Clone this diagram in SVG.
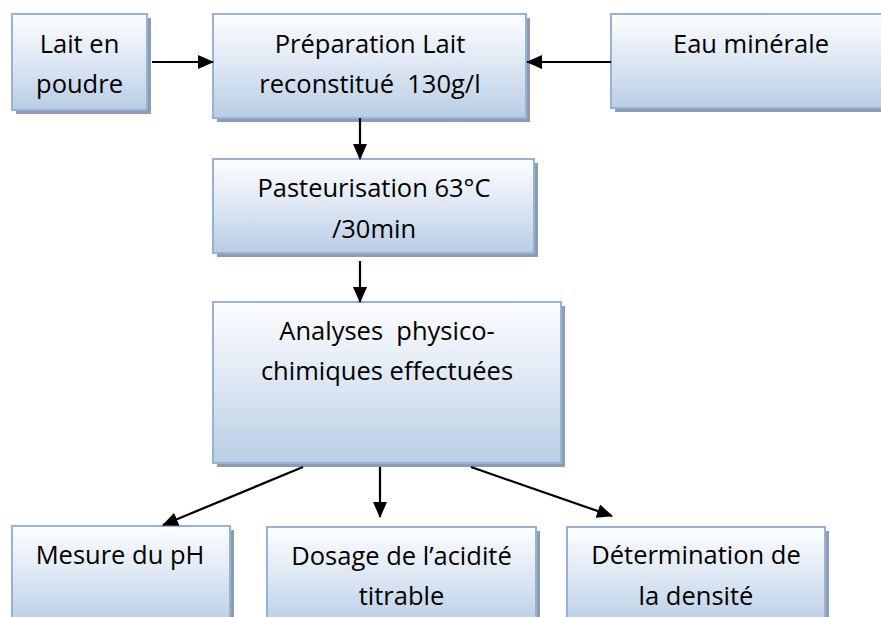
<svg xmlns="http://www.w3.org/2000/svg" width="881" height="617" viewBox="0 0 881 617">
<style>
.box{fill:url(#g);stroke:#95b3d7;stroke-width:2}
.sh{fill:#8e9bb0}
.t{font-family:"Open Sans","Liberation Sans",sans-serif;font-size:25.5px;fill:#000;text-anchor:middle}
.c{stroke:#000;stroke-width:2.2;fill:none;marker-end:url(#a)}
</style>
<defs>
<linearGradient id="g" x1="0" y1="0" x2="0" y2="1">
<stop offset="0" stop-color="#fdfeff"/>
<stop offset="0.5" stop-color="#dde7f3"/>
<stop offset="1" stop-color="#b9cde5"/>
</linearGradient>
<marker id="a" markerUnits="userSpaceOnUse" markerWidth="16" markerHeight="14" refX="15" refY="7" orient="auto" viewBox="0 0 16 14">
<path d="M0,0 L16,7 L0,14 Z" fill="#000"/>
</marker>
</defs>
<rect width="881" height="617" fill="#fff"/>
<g id="n1">
<rect class="sh" x="16" y="18" width="135" height="96"/>
<rect class="box" x="12" y="14" width="135" height="96"/>
<text class="t" x="79.5" y="53">Lait en</text>
<text class="t" x="79.5" y="93">poudre</text>
</g>
<g id="n2">
<rect class="sh" x="217" y="18" width="313" height="104"/>
<rect class="box" x="213" y="14" width="313" height="104"/>
<text class="t" x="370" y="53">Préparation Lait</text>
<text class="t" x="370" y="93" xml:space="preserve">reconstitué  130g/l</text>
</g>
<g id="n3">
<rect class="sh" x="615" y="18" width="280" height="94"/>
<rect class="box" x="611" y="14" width="280" height="94"/>
<text class="t" x="751" y="53">Eau minérale</text>
</g>
<g id="n4">
<rect class="sh" x="217" y="163" width="321" height="94"/>
<rect class="box" x="213" y="159" width="321" height="94"/>
<text class="t" x="374" y="197">Pasteurisation 63°C</text>
<text class="t" x="374" y="238">/30min</text>
</g>
<g id="n5">
<rect class="sh" x="217" y="306" width="348" height="161"/>
<rect class="box" x="213" y="302" width="348" height="161"/>
<text class="t" x="387" y="340" xml:space="preserve">Analyses  physico-</text>
<text class="t" x="387" y="380">chimiques effectuées</text>
</g>
<g id="n6">
<rect class="sh" x="16" y="530" width="218" height="100"/>
<rect class="box" x="12" y="526" width="218" height="100"/>
<text class="t" x="120" y="564">Mesure du pH</text>
</g>
<g id="n7">
<rect class="sh" x="271" y="531" width="269" height="100"/>
<rect class="box" x="267" y="527" width="269" height="100"/>
<text class="t" x="401.5" y="565">Dosage de l’acidité</text>
<text class="t" x="401.5" y="605">titrable</text>
</g>
<g id="n8">
<rect class="sh" x="571" y="531" width="258" height="100"/>
<rect class="box" x="567" y="527" width="258" height="100"/>
<text class="t" x="696" y="564">Détermination de</text>
<text class="t" x="696" y="605">la densité</text>
</g>
<g id="connectors">
<line class="c" x1="152" y1="62" x2="213" y2="62"/>
<line class="c" x1="611" y1="62" x2="527" y2="62"/>
<line class="c" x1="360" y1="118" x2="360" y2="159"/>
<line class="c" x1="360" y1="261" x2="360" y2="302"/>
<line class="c" x1="303" y1="467" x2="163" y2="525"/>
<line class="c" x1="380" y1="467" x2="380" y2="517"/>
<line class="c" x1="471" y1="467" x2="612" y2="516"/>
</g>
</svg>
